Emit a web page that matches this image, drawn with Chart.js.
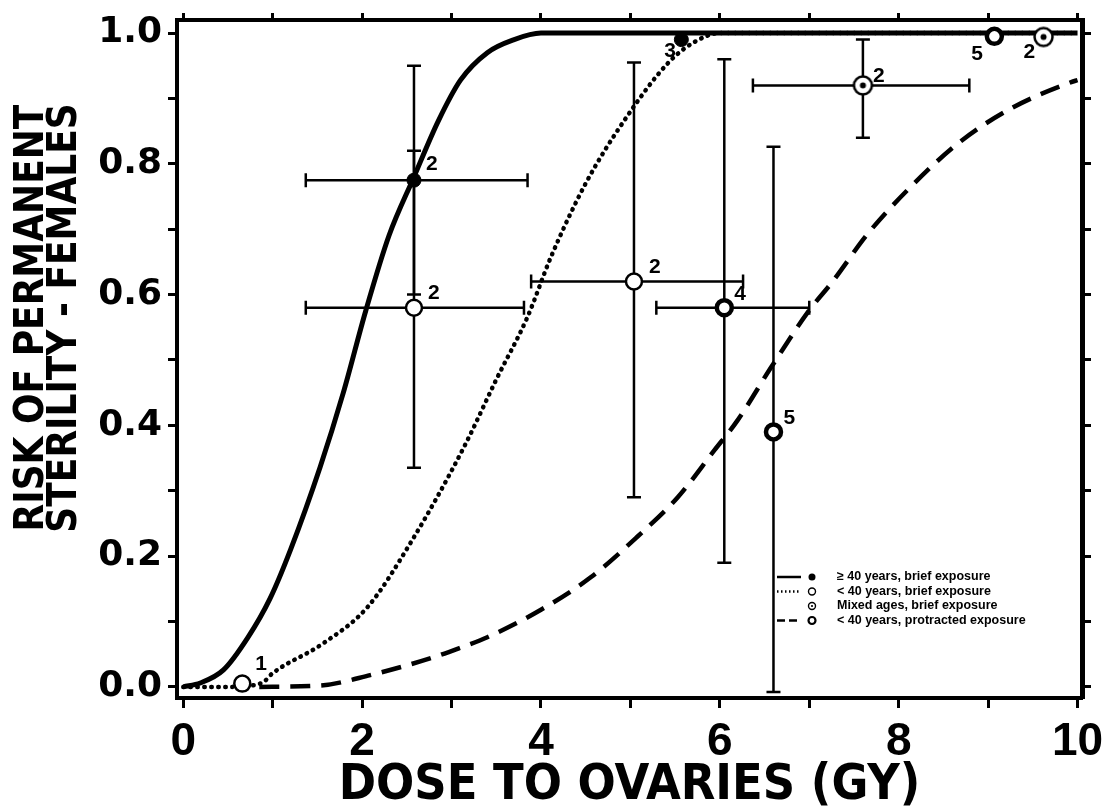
<!DOCTYPE html>
<html>
<head>
<meta charset="utf-8">
<script src="https://cdn.jsdelivr.net/npm/chart.js@4.4.1/dist/chart.umd.min.js"></script>
<style>
  html, body { margin: 0; padding: 0; background: #fff; }
  #wrap { width: 1103px; height: 809px; }
</style>
</head>
<body>
<div id="wrap"><canvas id="chart"></canvas></div>
<script>
// fitted curves
const solidX = [0, 0.19, 0.45, 0.72, 0.97, 1.2, 1.53, 1.79, 2.04, 2.3, 2.58, 2.85, 3.1, 3.4, 3.7, 4.0, 5, 6, 7, 8, 9, 10];
const solidY = [0, 0.006, 0.026, 0.075, 0.135, 0.21, 0.336, 0.45, 0.575, 0.69, 0.78, 0.865, 0.928, 0.97, 0.99, 1.0, 1.0, 1.0, 1.0, 1.0, 1.0, 1.0];

const dottedX = [0, 0.5, 0.88, 1.0, 1.57, 2.06, 2.54, 3.14, 3.5, 3.85, 4.11, 4.5, 4.95, 5.42, 5.7, 6.0, 7, 8, 9, 10];
const dottedY = [0, 0, 0.006, 0.021, 0.067, 0.122, 0.22, 0.367, 0.47, 0.566, 0.657, 0.77, 0.87, 0.954, 0.985, 1.0, 1.0, 1.0, 1.0, 1.0];

const dashedX = [0.85, 1.53, 2.09, 2.77, 3.1, 3.4, 4.0, 4.56, 5.08, 5.53, 5.94, 6.2, 6.57, 7.0, 7.25, 7.66, 8.1, 8.67, 9.26, 9.93, 10];
const dashedY = [0, 0.002, 0.018, 0.044, 0.06, 0.076, 0.118, 0.168, 0.23, 0.29, 0.362, 0.408, 0.488, 0.576, 0.618, 0.694, 0.76, 0.832, 0.885, 0.925, 0.928];

// observed points: >= 40 years, brief exposure
const oldX = [2.58, 5.57];
const oldY = [0.775, 0.99];
const oldN = ['2', '3'];
const oldXLo = [1.37, null];
const oldXHi = [3.85, null];
const oldYLo = [0.60, null];
const oldYHi = [0.95, null];

// < 40 years, brief exposure
const youngX = [0.66, 2.58, 5.04];
const youngY = [0.005, 0.58, 0.62];
const youngN = ['1', '2', '2'];
const youngXLo = [null, 1.37, 3.89];
const youngXHi = [null, 3.81, 6.26];
const youngYLo = [null, 0.335, 0.29];
const youngYHi = [null, 0.82, 0.955];

// mixed ages, brief exposure
const mixedX = [7.6, 9.62];
const mixedY = [0.92, 0.994];
const mixedN = ['2', '2'];
const mixedXLo = [6.37, null];
const mixedXHi = [8.79, null];
const mixedYLo = [0.84, null];
const mixedYHi = [0.99, null];

// < 40 years, protracted exposure
const protX = [6.05, 6.6, 9.07];
const protY = [0.58, 0.39, 0.995];
const protN = ['4', '5', '5'];
const protXLo = [5.29, null, null];
const protXHi = [7.0, null, null];
const protYLo = [0.19, -0.008, null];
const protYHi = [0.96, 0.826, null];

const xTicks = [0, 1, 2, 3, 4, 5, 6, 7, 8, 9, 10];
const yTicks = [0, 0.1, 0.2, 0.3, 0.4, 0.5, 0.6, 0.7, 0.8, 0.9, 1.0];

const legendLabels = ['\u2265 40 years, brief exposure', '< 40 years, brief exposure', 'Mixed ages, brief exposure', '< 40 years, protracted exposure'];

// label offsets in px (dx, dy) from each point
const oldOff = [[12, -16], [-17, 12]];
const youngOff = [[13, -19], [14, -14], [15, -14]];
const mixedOff = [[10, -9], [-20, 15]];
const protOff = [[10, -13], [10, -14], [-23, 18]];

const NARROW = "'DejaVu Sans Condensed', 'Liberation Sans Narrow', sans-serif";
const pairs = (xs, ys) => xs.map((x, i) => ({ x: x, y: ys[i] }));

function mixedMarker(r, lw, dot) {
  const s = Math.ceil(2 * r + lw + 2);
  const c = document.createElement('canvas');
  c.width = s; c.height = s;
  const g = c.getContext('2d');
  g.fillStyle = '#fff'; g.strokeStyle = '#000'; g.lineWidth = lw;
  g.beginPath(); g.arc(s / 2, s / 2, r, 0, Math.PI * 2); g.fill(); g.stroke();
  g.fillStyle = '#000';
  g.beginPath(); g.arc(s / 2, s / 2, dot, 0, Math.PI * 2); g.fill();
  return c;
}

const groups = [
  { x: oldX, y: oldY, n: oldN, xlo: oldXLo, xhi: oldXHi, ylo: oldYLo, yhi: oldYHi, off: oldOff },
  { x: youngX, y: youngY, n: youngN, xlo: youngXLo, xhi: youngXHi, ylo: youngYLo, yhi: youngYHi, off: youngOff },
  { x: mixedX, y: mixedY, n: mixedN, xlo: mixedXLo, xhi: mixedXHi, ylo: mixedYLo, yhi: mixedYHi, off: mixedOff },
  { x: protX, y: protY, n: protN, xlo: protXLo, xhi: protXHi, ylo: protYLo, yhi: protYHi, off: protOff }
];

const errorBars = {
  id: 'errorBars',
  beforeDatasetsDraw(chart) {
    const { ctx, scales: { x, y } } = chart;
    const cap = 7;
    ctx.save();
    ctx.strokeStyle = '#000';
    ctx.lineWidth = 2.5;
    groups.forEach(g => {
      g.x.forEach((xv, i) => {
        const px = x.getPixelForValue(xv), py = y.getPixelForValue(g.y[i]);
        ctx.beginPath();
        if (g.xlo[i] !== null) {
          const a = x.getPixelForValue(g.xlo[i]), b = x.getPixelForValue(g.xhi[i]);
          ctx.moveTo(a, py); ctx.lineTo(b, py);
          ctx.moveTo(a, py - cap); ctx.lineTo(a, py + cap);
          ctx.moveTo(b, py - cap); ctx.lineTo(b, py + cap);
        }
        if (g.ylo[i] !== null) {
          const a = y.getPixelForValue(g.ylo[i]), b = y.getPixelForValue(g.yhi[i]);
          ctx.moveTo(px, a); ctx.lineTo(px, b);
          ctx.moveTo(px - cap, a); ctx.lineTo(px + cap, a);
          ctx.moveTo(px - cap, b); ctx.lineTo(px + cap, b);
        }
        ctx.stroke();
      });
    });
    ctx.restore();
  },
  afterDatasetsDraw(chart) {
    const { ctx, scales: { x, y }, chartArea } = chart;
    ctx.save();
    ctx.fillStyle = '#000';
    ctx.font = "bold 21px 'Liberation Sans', Arial, sans-serif";
    ctx.textAlign = 'left';
    ctx.textBaseline = 'middle';
    groups.forEach(g => {
      g.x.forEach((xv, i) => {
        const px = x.getPixelForValue(xv), py = y.getPixelForValue(g.y[i]);
        ctx.fillText(g.n[i], px + g.off[i][0], py + g.off[i][1]);
      });
    });

    // legend block, lower right inside the frame
    const lx = chartArea.left + 598, ty = chartArea.bottom - 121, step = 14.5;
    ctx.font = "bold 12.5px 'Liberation Sans', Arial, sans-serif";
    ctx.strokeStyle = '#000';
    legendLabels.forEach((t, i) => {
      const ly = ty + i * step;
      ctx.fillText(t, lx + 62, ly);
      ctx.lineWidth = 2.5;
      ctx.setLineDash(i === 1 ? [1.5, 2.5] : i === 3 ? [8, 4] : []);
      if (i !== 2) {
        ctx.beginPath(); ctx.moveTo(lx + 2, ly); ctx.lineTo(lx + 26, ly); ctx.stroke();
      }
      ctx.setLineDash([]);
      const mx = lx + 37;
      ctx.beginPath();
      ctx.arc(mx, ly, 3.5, 0, Math.PI * 2);
      if (i === 0) { ctx.fill(); }
      else {
        ctx.lineWidth = i === 3 ? 2.2 : 1.4;
        ctx.stroke();
        if (i === 2) { ctx.beginPath(); ctx.arc(mx, ly, 1.1, 0, Math.PI * 2); ctx.fill(); }
      }
    });

    // y axis title, two rotated lines (baseline on the right side of the caps)
    ctx.font = 'bold 40px ' + NARROW;
    ctx.textAlign = 'center';
    ctx.textBaseline = 'alphabetic';
    [['RISK OF PERMANENT', 43], ['STERILITY - FEMALES', 76]].forEach(([t, bx]) => {
      ctx.save();
      ctx.translate(bx, 318);
      ctx.rotate(-Math.PI / 2);
      ctx.fillText(t, 0, 0);
      ctx.restore();
    });
    ctx.restore();
  }
};

const frameGrid = (len) => ({ display: true, drawOnChartArea: false, drawTicks: true, tickLength: len, tickWidth: 3, tickColor: '#000' });

new Chart(document.getElementById('chart'), {
  type: 'scatter',
  data: {
    datasets: [
      { data: pairs(oldX, oldY), pointRadius: 7, pointBackgroundColor: '#000', pointBorderColor: '#000', pointBorderWidth: 1, order: 0 },
      { data: pairs(youngX, youngY), pointRadius: 8, pointBackgroundColor: '#fff', pointBorderColor: '#000', pointBorderWidth: 2.5, order: 0 },
      { data: pairs(mixedX, mixedY), pointStyle: mixedMarker(9, 2.5, 3), order: 0 },
      { data: pairs(protX, protY), pointRadius: 7.5, pointBackgroundColor: '#fff', pointBorderColor: '#000', pointBorderWidth: 4.5, order: 0 },
      { data: pairs(solidX, solidY), showLine: true, pointRadius: 0, borderColor: '#000', borderWidth: 5, cubicInterpolationMode: 'monotone', order: 1 },
      { data: pairs(dottedX, dottedY), showLine: true, pointRadius: 0, borderColor: '#000', borderWidth: 4.5, borderDash: [0.5, 6.5], borderCapStyle: 'round', cubicInterpolationMode: 'monotone', order: 1 },
      { data: pairs(dashedX, dashedY), showLine: true, pointRadius: 0, borderColor: '#000', borderWidth: 4.5, borderDash: [20, 11], cubicInterpolationMode: 'monotone', order: 1 }
    ]
  },
  options: {
    responsive: true,
    maintainAspectRatio: false,
    animation: false,
    layout: { padding: 0 },
    plugins: { legend: { display: false }, tooltip: { enabled: false } },
    scales: {
      x: {
        type: 'linear', position: 'bottom', min: -0.07, max: 10.05,
        afterBuildTicks: (s) => { s.ticks = xTicks.map(v => ({ value: v })); },
        afterFit: (s) => { s.height = 111; s.paddingLeft = 0; s.paddingRight = 0; },
        ticks: { autoSkip: false, maxRotation: 0, padding: 7, color: '#000', font: { family: "'Liberation Sans', Arial, sans-serif", size: 46, weight: 'bold' },
          callback: (v) => (v % 2 === 0 ? String(v) : '') },
        grid: frameGrid(10),
        border: { color: '#000', width: 4 },
        title: { display: true, text: 'DOSE TO OVARIES (GY)', color: '#000', font: { family: NARROW, size: 50, weight: 'bold', lineHeight: 0.9 }, padding: 0 }
      },
      x2: {
        type: 'linear', position: 'top', min: -0.07, max: 10.05,
        afterBuildTicks: (s) => { s.ticks = xTicks.map(v => ({ value: v })); },
        afterFit: (s) => { s.height = 20; s.paddingLeft = 0; s.paddingRight = 0; },
        ticks: { display: false },
        grid: frameGrid(7),
        border: { color: '#000', width: 4 }
      },
      y: {
        type: 'linear', position: 'left', min: -0.017, max: 1.02,
        afterBuildTicks: (s) => { s.ticks = yTicks.map(v => ({ value: v })); },
        afterFit: (s) => { s.width = 177; s.paddingTop = 0; s.paddingBottom = 0; },
        ticks: { autoSkip: false, padding: 6, color: '#000', font: { family: "'DejaVu Sans', sans-serif", size: 36, weight: 'bold' },
          callback: (v) => (Math.round(v * 10) % 2 === 0 ? v.toFixed(1) : '') },
        grid: frameGrid(9),
        border: { color: '#000', width: 4 }
      },
      y2: {
        type: 'linear', position: 'right', min: -0.017, max: 1.02,
        afterBuildTicks: (s) => { s.ticks = yTicks.map(v => ({ value: v })); },
        afterFit: (s) => { s.width = 21; s.paddingTop = 0; s.paddingBottom = 0; },
        ticks: { display: false },
        grid: frameGrid(9),
        border: { color: '#000', width: 5 }
      }
    }
  },
  plugins: [errorBars]
});
</script>
</body>
</html>
